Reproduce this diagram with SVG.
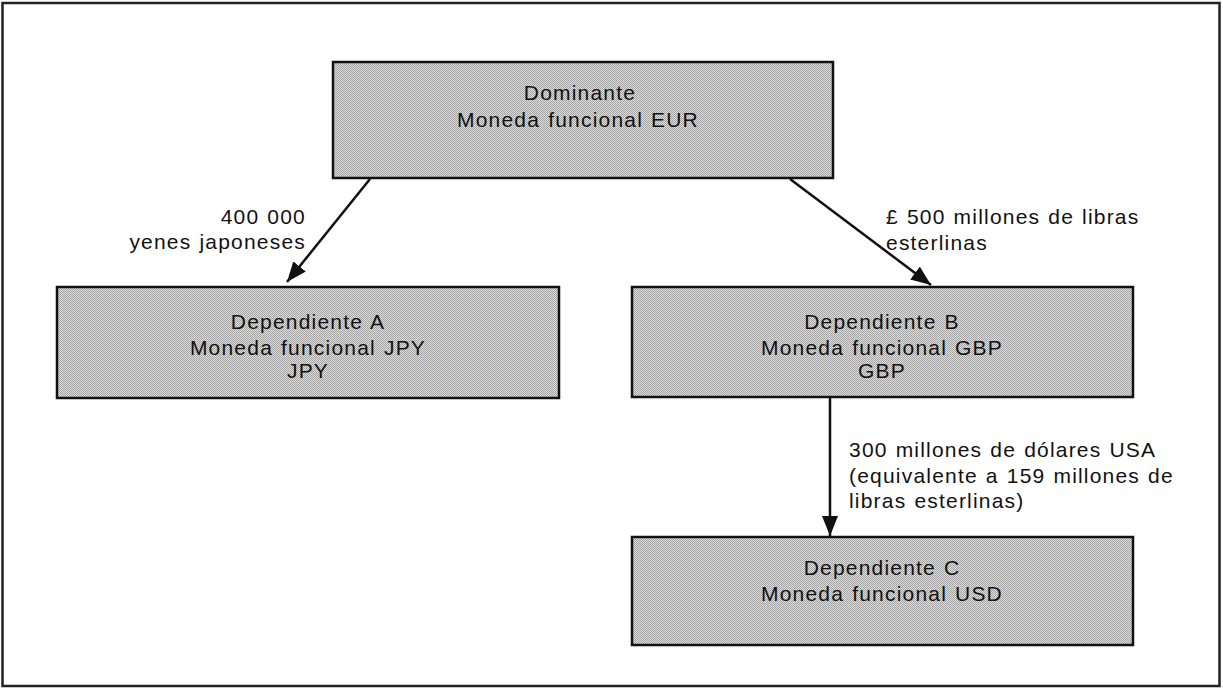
<svg xmlns="http://www.w3.org/2000/svg" width="1223" height="688" viewBox="0 0 1223 688">
<style>
.box{stroke:#111;stroke-width:2.5;fill:url(#dots)}
.t{font-family:"Liberation Sans",Arial,sans-serif;font-size:21px;fill:#111;letter-spacing:1.2px;word-spacing:1px}
.c{text-anchor:middle}
.e{text-anchor:end}
.con{stroke:#111;stroke-width:2.5;fill:none;marker-end:url(#ah)}
</style>
<defs>
<pattern id="dots" width="2" height="2" patternUnits="userSpaceOnUse">
<rect width="2" height="2" fill="#dcdcdc"/>
<rect width="1" height="1" fill="#a4a4a4"/>
<rect x="1" y="1" width="1" height="1" fill="#a4a4a4"/>
</pattern>
<marker id="ah" viewBox="0 0 20 16" refX="20" refY="8" markerWidth="20" markerHeight="16" markerUnits="userSpaceOnUse" orient="auto">
<path d="M0,0 L20,8 L0,16 z" fill="#111"/>
</marker>
</defs>
<rect x="0" y="0" width="1223" height="688" fill="#fff"/>
<rect x="2.5" y="3" width="1217" height="683" fill="none" stroke="#222" stroke-width="2.5"/>
<g id="connectors">
<line class="con" x1="370" y1="179" x2="287" y2="282"/>
<line class="con" x1="790" y1="179" x2="931" y2="285"/>
<line class="con" x1="830" y1="398" x2="830" y2="536"/>
<text class="t e" x="306" y="224">400 000</text>
<text class="t e" x="306" y="249">yenes japoneses</text>
<text class="t" x="886" y="224">£ 500 millones de libras</text>
<text class="t" x="886" y="250">esterlinas</text>
<text class="t" x="849" y="457">300 millones de dólares USA</text>
<text class="t" x="849" y="483">(equivalente a 159 millones de</text>
<text class="t" x="849" y="508">libras esterlinas)</text>
</g>
<g id="dominante">
<rect class="box" x="333" y="62" width="500" height="116"/>
<text class="t c" x="580" y="100">Dominante</text>
<text class="t c" x="578" y="127">Moneda funcional EUR</text>
</g>
<g id="dependienteA">
<rect class="box" x="57" y="287" width="502" height="111"/>
<text class="t c" x="308" y="329">Dependiente A</text>
<text class="t c" x="308" y="355">Moneda funcional JPY</text>
<text class="t c" x="308" y="378">JPY</text>
</g>
<g id="dependienteB">
<rect class="box" x="632" y="287" width="501" height="110"/>
<text class="t c" x="882" y="329">Dependiente B</text>
<text class="t c" x="882" y="355">Moneda funcional GBP</text>
<text class="t c" x="882" y="378">GBP</text>
</g>
<g id="dependienteC">
<rect class="box" x="632" y="537" width="501" height="108"/>
<text class="t c" x="882" y="575">Dependiente C</text>
<text class="t c" x="882" y="601">Moneda funcional USD</text>
</g>
</svg>
